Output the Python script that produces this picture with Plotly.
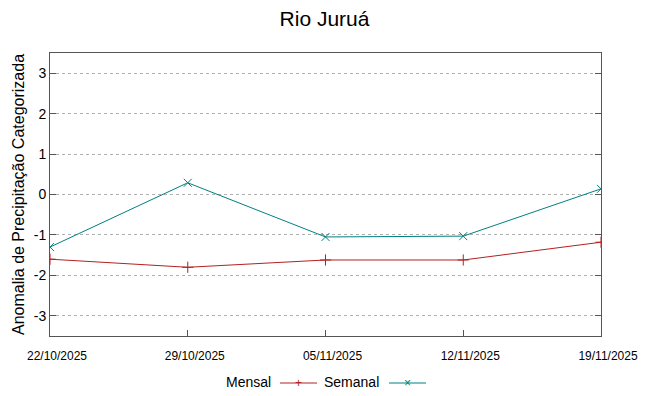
import plotly.graph_objects as go

dates = ["22/10/2025", "29/10/2025", "05/11/2025", "12/11/2025", "19/11/2025"]
mensal = [-1.6, -1.8, -1.62, -1.62, -1.18]
semanal = [-1.3, 0.29, -1.05, -1.03, 0.14]
y_ticks = [3, 2, 1, 0, -1, -2, -3]

RED = "#b22222"
TEAL = "#008080"
FONT = "Liberation Sans"

fig = go.Figure()
fig.add_trace(go.Scatter(
    x=dates, y=mensal, mode="lines+markers", name="Mensal",
    line=dict(color=RED, width=1),
    marker=dict(symbol="cross-thin", size=8, line=dict(color=RED, width=1), color=RED),
))
fig.add_trace(go.Scatter(
    x=dates, y=semanal, mode="lines+markers", name="Semanal",
    line=dict(color=TEAL, width=1),
    marker=dict(symbol="x-thin", size=8, line=dict(color=TEAL, width=1), color=TEAL),
))

W, H = 649, 396
L, R, T, B = 50, 48, 53, 60
pw, ph = W - L - R, H - T - B

def px_to_paper(xp, yp):
    return (xp - L) / pw, (H - B - yp) / ph

# manual legend (text before sample, as in reference)
legend = [("Mensal", RED, "+", 273, 280, 317), ("Semanal", TEAL, "×", 381, 389, 426)]
for name, col, sym, txr, lx0, lx1 in legend:
    ax, ay = px_to_paper(txr, 382)
    fig.add_annotation(x=ax, y=ay, xref="paper", yref="paper", text=name, showarrow=False,
                       xanchor="right", yanchor="middle", font=dict(family=FONT, size=14, color="#000000"))
    a0, _ = px_to_paper(lx0, 383)
    a1, by = px_to_paper(lx1, 383)
    fig.add_shape(type="line", xref="paper", yref="paper", x0=a0, x1=a1, y0=by, y1=by,
                  line=dict(color=col, width=1))
    mx, _ = px_to_paper((lx0 + lx1) / 2, 383)
    fig.add_annotation(x=mx, y=by, xref="paper", yref="paper", text=sym, showarrow=False,
                       xanchor="center", yanchor="middle", font=dict(family=FONT, size=12, color=col))

fig.update_layout(
    width=W, height=H,
    margin=dict(l=L, r=R, t=T, b=B, autoexpand=False),
    paper_bgcolor="white", plot_bgcolor="white",
    showlegend=False,
    font=dict(family=FONT, color="#000000"),
    title=dict(text="Rio Juruá", x=0.5, xanchor="center", y=1 - 19 / H, yanchor="middle",
               font=dict(family=FONT, size=21, color="#000000")),
)
fig.update_xaxes(
    type="category", range=[0, 4],
    showgrid=False, showline=True, linecolor="#555555", linewidth=1, mirror=True,
    ticks="inside", ticklen=6, tickcolor="#555555",
    tickfont=dict(family=FONT, size=12, color="#000000"),
    ticklabelstandoff=9, ticklabelshift=7,
    zeroline=False,
)
fig.update_yaxes(
    range=[-3.5, 3.5], tickvals=y_ticks, ticktext=[str(v) for v in y_ticks],
    showgrid=True, gridcolor="#b0b0b0", griddash="dot", gridwidth=1,
    showline=True, linecolor="#555555", linewidth=1, mirror="ticks",
    ticks="inside", ticklen=6, tickcolor="#555555",
    tickfont=dict(family=FONT, size=14, color="#000000"),
    zeroline=False,
    title=dict(text="Anomalia de Precipitação Categorizada", standoff=5,
               font=dict(family=FONT, size=16, color="#000000")),
)

fig.write_html("out.html", config={"displayModeBar": False},
               post_script="document.body.style.margin='0';document.body.style.padding='0';")
